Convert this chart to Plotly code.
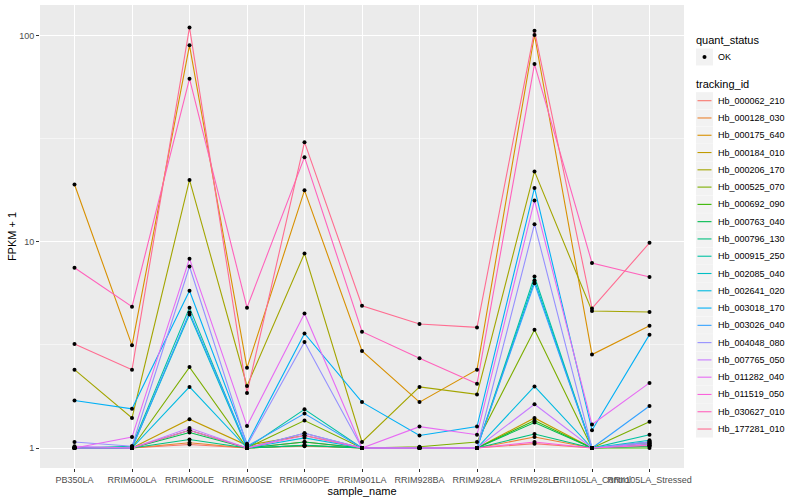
import plotly.graph_objects as go

samples = ["PB350LA", "RRIM600LA", "RRIM600LE", "RRIM600SE", "RRIM600PE", "RRIM901LA",
           "RRIM928BA", "RRIM928LA", "RRIM928LE", "RRII105LA_Control", "RRII105LA_Stressed"]

tracking_ids = ["Hb_000062_210", "Hb_000128_030", "Hb_000175_640", "Hb_000184_010", "Hb_000206_170",
                "Hb_000525_070", "Hb_000692_090", "Hb_000763_040", "Hb_000796_130", "Hb_000915_250",
                "Hb_002085_040", "Hb_002641_020", "Hb_003018_170", "Hb_003026_040", "Hb_004048_080",
                "Hb_007765_050", "Hb_011282_040", "Hb_011519_050", "Hb_030627_010", "Hb_177281_010"]

colors = ["#F8766D", "#EA8331", "#D89000", "#C09B00", "#A3A500", "#7CAE00", "#39B600", "#00BB4E",
          "#00BF7D", "#00C1A3", "#00BFC4", "#00BAE0", "#00B0F6", "#35A2FF", "#9590FF", "#C77CFF",
          "#E76BF3", "#FA62DB", "#FF62BC", "#FF6C91"]

fpkm_plus_1 = [
    [1.0, 1.0, 1.04, 1.0, 1.02, 1.0, 1.0, 1.0, 1.05, 1.0, 1.03],
    [1.0, 1.0, 1.06, 1.0, 1.07, 1.0, 1.0, 1.0, 1.13, 1.0, 1.05],
    [19.0, 3.15, 90.0, 2.45, 17.8, 2.96, 1.67, 2.4, 101.0, 2.84, 3.92],
    [1.0, 1.0, 1.38, 1.03, 1.15, 1.0, 1.0, 1.0, 1.40, 1.0, 1.07],
    [2.4, 1.4, 20.0, 2.0, 8.8, 1.07, 1.98, 1.82, 22.0, 4.62, 4.57],
    [1.0, 1.0, 2.47, 1.0, 1.36, 1.0, 1.015, 1.07, 3.75, 1.0, 1.34],
    [1.0, 1.0, 1.22, 1.0, 1.03, 1.0, 1.0, 1.0, 1.36, 1.0, 1.0],
    [1.0, 1.0, 1.19, 1.0, 1.07, 1.0, 1.0, 1.0, 1.33, 1.0, 1.02],
    [1.0, 1.0, 1.10, 1.0, 1.03, 1.0, 1.0, 1.0, 1.17, 1.0, 1.05],
    [1.0, 1.02, 4.8, 1.0, 1.54, 1.0, 1.0, 1.0, 6.8, 1.0, 1.16],
    [1.0, 1.0, 4.45, 1.0, 1.18, 1.0, 1.0, 1.0, 6.5, 1.0, 1.09],
    [1.0, 1.0, 1.98, 1.0, 1.12, 1.0, 1.0, 1.0, 1.99, 1.0, 1.07],
    [1.7, 1.55, 5.8, 1.05, 3.6, 1.67, 1.15, 1.27, 18.3, 1.22, 3.55],
    [1.0, 1.0, 4.55, 1.02, 1.47, 1.0, 1.0, 1.0, 6.3, 1.0, 1.60],
    [1.07, 1.02, 7.6, 1.03, 3.27, 1.0, 1.0, 1.0, 12.2, 1.0, 1.07],
    [1.02, 1.0, 1.25, 1.0, 1.18, 1.0, 1.0, 1.0, 1.63, 1.0, 1.05],
    [1.0, 1.13, 8.3, 1.28, 4.5, 1.0, 1.27, 1.16, 15.9, 1.30, 2.07],
    [1.0, 1.0, 1.22, 1.0, 1.15, 1.0, 1.0, 1.0, 1.07, 1.0, 1.03],
    [7.5, 4.85, 62.0, 4.8, 25.8, 3.67, 2.73, 2.05, 73.0, 7.9, 6.76],
    [3.2, 2.4, 110.0, 1.85, 30.5, 4.9, 4.0, 3.85, 106.0, 4.76, 9.9],
]

quant_status = ["OK"]
y_ticks = [1, 10, 100]
y_minor = [10 ** 0.5, 10 ** 1.5]

FONT = "Liberation Sans, Arial, sans-serif"

# panel geometry in pixels (used for legend placement)
W, H = 800, 500
ML, MR, MT, MB = 40, 116, 5, 32
PW, PH = W - ML - MR, H - MT - MB


def px_x(x):
    return (x - ML) / PW


def px_y(y):
    return (H - MB - y) / PH


fig = go.Figure()

for tid, vals, col in zip(tracking_ids, fpkm_plus_1, colors):
    fig.add_trace(go.Scatter(
        x=samples, y=vals, mode="lines", name=tid,
        line=dict(color=col, width=1.1), showlegend=False,
    ))

px_, py_ = [], []
for vals in fpkm_plus_1:
    px_.extend(samples)
    py_.extend(vals)
fig.add_trace(go.Scatter(
    x=px_, y=py_, mode="markers", name=quant_status[0],
    marker=dict(color="black", size=4), showlegend=False,
))

# ---- manual ggplot-style legend ----
shapes, annotations = [], []
key_x0, key_x1 = 696, 713
text_x = 716


def add_key(yc):
    shapes.append(dict(type="rect", xref="paper", yref="paper",
                       x0=px_x(key_x0), x1=px_x(key_x1), y0=px_y(yc + 8.5), y1=px_y(yc - 8.5),
                       fillcolor="#F2F2F2", line=dict(width=0), layer="below"))


def add_text(x, yc, text, size, color="black"):
    annotations.append(dict(xref="paper", yref="paper", x=px_x(x), y=px_y(yc), text=text,
                            showarrow=False, xanchor="left", yanchor="middle",
                            font=dict(family=FONT, size=size, color=color)))


add_text(694, 40, "quant_status", 11)
add_key(57)
shapes.append(dict(type="circle", xref="paper", yref="paper",
                   xsizemode="pixel", ysizemode="pixel",
                   xanchor=px_x(704.5), yanchor=px_y(57),
                   x0=-2, x1=2, y0=-2, y1=2,
                   fillcolor="black", line=dict(width=0)))
add_text(text_x, 57, quant_status[0], 9)

add_text(694, 84, "tracking_id", 11)
for i, (tid, col) in enumerate(zip(tracking_ids, colors)):
    yc = 100.7 + i * 17.28
    add_key(yc)
    shapes.append(dict(type="line", xref="paper", yref="paper",
                       x0=px_x(697.5), x1=px_x(711.5), y0=px_y(yc), y1=px_y(yc),
                       line=dict(color=col, width=1.1)))
    add_text(text_x, yc, tid, 9)

fig.update_layout(
    width=W, height=H,
    margin=dict(l=ML, r=MR, t=MT, b=MB),
    paper_bgcolor="white",
    plot_bgcolor="#EBEBEB",
    font=dict(family=FONT, size=9, color="#4D4D4D"),
    showlegend=False,
    shapes=shapes,
    annotations=annotations,
    xaxis=dict(
        type="category", categoryorder="array", categoryarray=samples,
        range=[-0.6, 10.6], tickangle=0,
        showgrid=True, gridcolor="white", gridwidth=1.1,
        zeroline=False, showline=False,
        ticks="outside", ticklen=3, tickcolor="#333333", tickwidth=1,
        tickfont=dict(size=9, color="#4D4D4D"),
        title=dict(text="sample_name", font=dict(size=11, color="black"), standoff=0),
    ),
    yaxis=dict(
        type="log", range=[-0.097, 2.150],
        tickmode="array", tickvals=y_ticks, ticktext=[str(v) for v in y_ticks],
        showgrid=True, gridcolor="white", gridwidth=1.1,
        minor=dict(tickmode="array", tickvals=y_minor, showgrid=True, gridcolor="#F5F5F5",
                   gridwidth=0.6, ticks=""),
        zeroline=False, showline=False,
        ticks="outside", ticklen=3, tickcolor="#333333", tickwidth=1,
        tickfont=dict(size=9, color="#4D4D4D"),
        title=dict(text="FPKM + 1", font=dict(size=11, color="black"), standoff=0),
    ),
)

fig.write_html("out.html", config={"displayModeBar": False},
               post_script="document.body.style.margin='0';")
